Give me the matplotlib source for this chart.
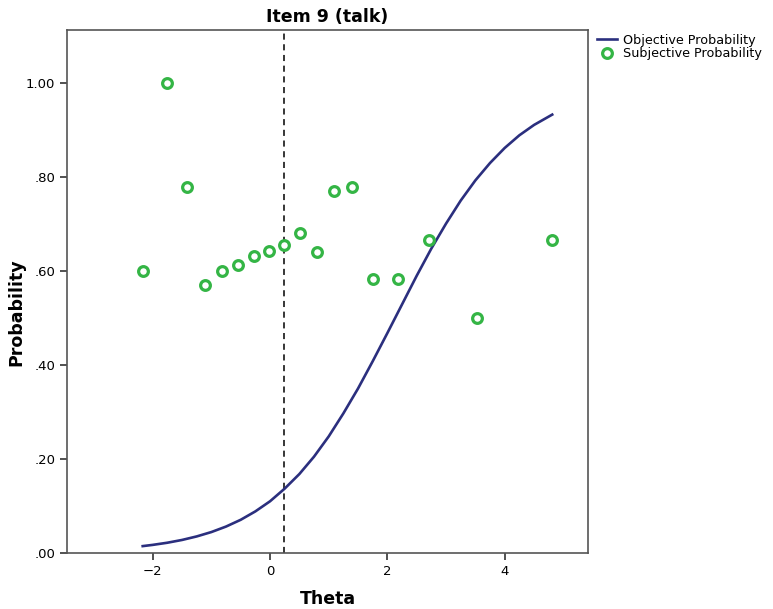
import matplotlib.pyplot as plt

# subjective probability (green circles)
theta_obs = [-2.17, -1.76, -1.42, -1.10, -0.82, -0.55, -0.28, -0.02, 0.24, 0.51,
             0.80, 1.09, 1.40, 1.76, 2.18, 2.71, 3.53, 4.81]
prob_obs = [0.600, 1.000, 0.778, 0.571, 0.600, 0.612, 0.631, 0.643, 0.655, 0.680,
            0.640, 0.770, 0.778, 0.583, 0.583, 0.667, 0.500, 0.667]

# objective probability (item characteristic curve)
theta_curve = [-2.17, -2.0, -1.75, -1.5, -1.25, -1.0, -0.75, -0.5, -0.25, 0.0,
               0.25, 0.5, 0.75, 1.0, 1.25, 1.5, 1.75, 2.0, 2.25, 2.5,
               2.75, 3.0, 3.25, 3.5, 3.75, 4.0, 4.25, 4.5, 4.81]
prob_curve = [0.0146, 0.0172, 0.0218, 0.0277, 0.0352, 0.0445, 0.0562, 0.0706, 0.0885, 0.110,
              0.137, 0.168, 0.205, 0.248, 0.297, 0.350, 0.408, 0.468, 0.529, 0.590,
              0.648, 0.701, 0.750, 0.793, 0.830, 0.862, 0.889, 0.911, 0.933]

theta_mark = 0.23

yticks = [0.0, 0.2, 0.4, 0.6, 0.8, 1.0]
yticklabels = ['.00', '.20', '.40', '.60', '.80', '1.00']
xticks = [-2, 0, 2, 4]

plt.rcParams['font.family'] = ['DejaVu Sans']

fig = plt.figure(figsize=(7.73, 6.09), dpi=100)
ax = fig.add_axes([0.0867, 0.092, 0.674, 0.8587])

ax.plot(theta_curve, prob_curve, color='#2b2f7e', lw=1.9, label='Objective Probability', zorder=3)
ax.plot(theta_obs, prob_obs, ls='none', marker='o', ms=7, mfc='white', mec='#34b545',
        mew=2.3, label='Subjective Probability', zorder=4)
ax.axvline(theta_mark, color='black', lw=1.1, ls=(0, (4, 3)), zorder=2)

ax.set_xlim(-3.46, 5.42)
ax.set_ylim(0, 1.113)
ax.set_xticks(xticks)
ax.set_xticklabels([str(t).replace('-', '\u2212') for t in xticks])
ax.set_yticks(yticks)
ax.set_yticklabels(yticklabels)
ax.tick_params(direction='out', length=5, width=1.2, color='#333333', labelsize=9.5)

for s in ax.spines.values():
    s.set_color('#555555')
    s.set_linewidth(1.2)

ax.set_title('Item 9 (talk)', fontsize=12.5, fontweight='bold', pad=6)
ax.set_xlabel('Theta', fontsize=12.5, fontweight='bold', labelpad=9)
ax.set_ylabel('Probability', fontsize=12.5, fontweight='bold')
ax.yaxis.set_label_coords(-0.08, 0.46)

ax.legend(loc='upper left', bbox_to_anchor=(1.0, 1.01), frameon=False, fontsize=9.2,
          handlelength=1.6, handletextpad=0.4, labelspacing=0.05, borderaxespad=0.3)

fig.savefig('out.png', dpi=100)
